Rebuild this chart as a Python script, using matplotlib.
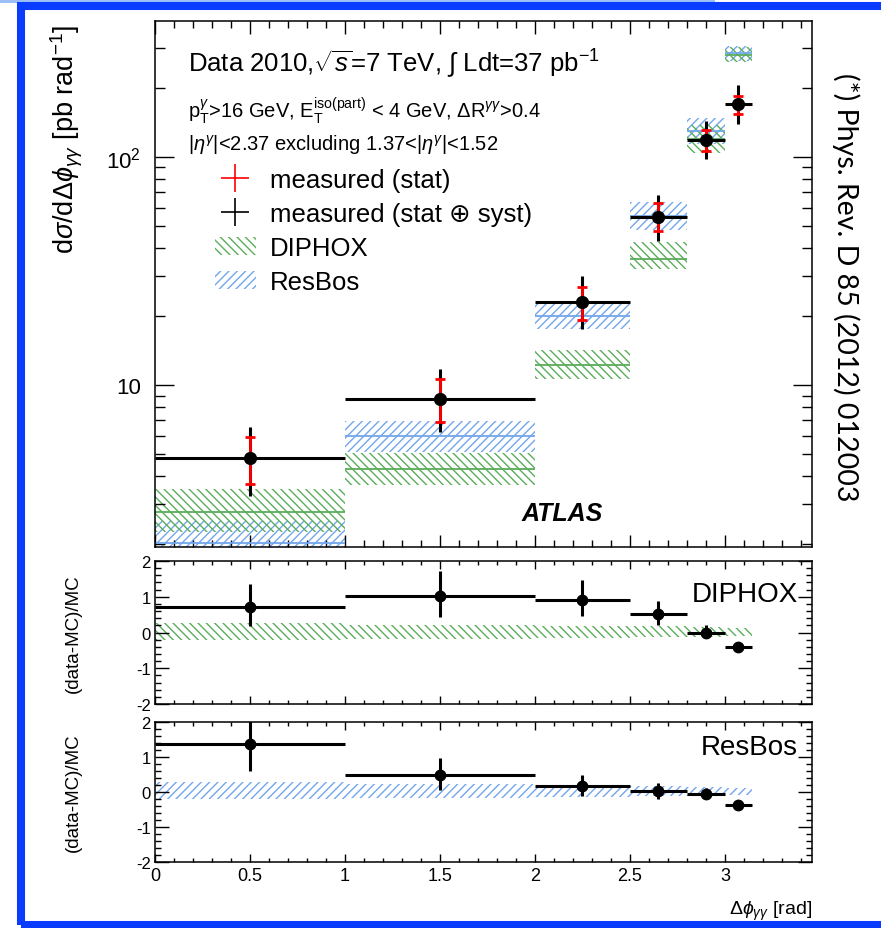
import numpy as np
import matplotlib
matplotlib.use("Agg")
import matplotlib.pyplot as plt
from matplotlib.lines import Line2D
from matplotlib.patches import Patch, Rectangle
from matplotlib.ticker import FixedLocator, MultipleLocator, FuncFormatter

plt.rcParams['font.family'] = ['Liberation Sans', 'DejaVu Sans']
plt.rcParams['mathtext.fontset'] = 'custom'
plt.rcParams['mathtext.rm'] = 'Liberation Sans'
plt.rcParams['mathtext.it'] = 'Liberation Sans:italic'
plt.rcParams['mathtext.bf'] = 'Liberation Sans:bold'
plt.rcParams['axes.unicode_minus'] = False
plt.rcParams['hatch.linewidth'] = 1.0

# bins in delta phi
bin_lo = [0.0, 1.0, 2.0, 2.5, 2.8, 3.0]
bin_hi = [1.0, 2.0, 2.5, 2.8, 3.0, 3.1416]
x_pts = [0.5, 1.5, 2.25, 2.65, 2.9, 3.07]

# measured cross section [pb/rad]
xsec = [4.79, 8.68, 23.1, 54.7, 118.8, 170.7]
stat_lo = [1.11, 1.82, 3.8, 7.5, 12.9, 15.8]
stat_hi = [1.13, 1.92, 3.7, 8.0, 13.0, 13.8]
tot_lo = [1.53, 2.48, 5.4, 11.8, 20.8, 31.1]
tot_hi = [1.75, 3.07, 6.9, 13.4, 25.4, 36.8]

# predictions
diphox = [2.78, 4.28, 12.2, 35.9, 120, 280]
diphox_lo = [2.26, 3.64, 10.6, 32.3, 104, 260]
diphox_hi = [3.50, 5.03, 14.3, 42.4, 138, 303]
resbos = [2.03, 5.96, 20.1, 55.1, 130, 285]
resbos_lo = [1.70, 5.10, 17.7, 47.9, 114, 265]
resbos_hi = [2.54, 6.97, 23.2, 63.7, 148, 308]

# (data-MC)/MC
r_dip = [0.70, 1.02, 0.90, 0.51, 0.00, -0.40]
r_dip_lo = [0.53, 0.58, 0.43, 0.31, 0.14, 0.07]
r_dip_hi = [0.67, 0.70, 0.56, 0.37, 0.20, 0.07]
band_dip_up = [0.26, 0.22, 0.19, 0.17, 0.15, 0.12]
band_dip_dn = [0.20, 0.17, 0.15, 0.13, 0.12, 0.10]

r_res = [1.36, 0.48, 0.17, 0.02, -0.05, -0.36]
r_res_lo = [0.76, 0.43, 0.28, 0.23, 0.16, 0.09]
r_res_hi = [0.75, 0.49, 0.33, 0.25, 0.16, 0.07]
band_res_up = [0.29, 0.24, 0.20, 0.17, 0.15, 0.12]
band_res_dn = [0.19, 0.16, 0.14, 0.12, 0.10, 0.08]

green = '#5aad5a'
blue = '#72a6ec'
h_dip = '\\\\\\\\'
h_res = '////'

W, H = 881, 929
fig = plt.figure(figsize=(W / 100, H / 100), dpi=100)

def ax_rect(l, t, r, b):
    return [l / W, 1 - b / H, (r - l) / W, (b - t) / H]

ax = fig.add_axes(ax_rect(155, 22, 812, 548))
ax1 = fig.add_axes(ax_rect(155, 562, 812, 705))
ax2 = fig.add_axes(ax_rect(155, 723, 812, 863))

edges = bin_lo + [bin_hi[-1]]
halfw = [(h - l) / 2 for l, h in zip(bin_lo, bin_hi)]

def step(v):
    return list(v) + [v[-1]]

# ---- main panel
ax.fill_between(edges, step(resbos_lo), step(resbos_hi), step='post',
                facecolor='none', edgecolor=blue, hatch=h_res, linewidth=0)
ax.fill_between(edges, step(diphox_lo), step(diphox_hi), step='post',
                facecolor='none', edgecolor=green, hatch=h_dip, linewidth=0)
ax.hlines(resbos, bin_lo, bin_hi, color=blue, lw=1.3)
ax.hlines(diphox, bin_lo, bin_hi, color=green, lw=1.3)

ax.errorbar(x_pts, xsec, xerr=halfw, yerr=[tot_lo, tot_hi], fmt='none',
            ecolor='black', elinewidth=2.2, capsize=0, zorder=3)
ax.errorbar(x_pts, xsec, yerr=[stat_lo, stat_hi], fmt='none', ecolor='red',
            elinewidth=2.0, capsize=3.3, capthick=2.0, zorder=4)
ax.plot(x_pts, xsec, 'o', color='black', ms=8.5, zorder=5)

ax.set_yscale('log')
ax.set_xlim(0, 3.458)
ax.set_ylim(1.95, 395)
ax.yaxis.set_major_locator(FixedLocator([10, 100]))
ax.yaxis.set_major_formatter(FuncFormatter(lambda v, p: '10' if v < 50 else r'10$^2$'))
ax.yaxis.set_minor_locator(FixedLocator([2, 3, 4, 5, 6, 7, 8, 9, 20, 30, 40, 50, 60, 70, 80, 90, 200, 300]))
ax.yaxis.set_minor_formatter(FuncFormatter(lambda v, p: ''))
ax.xaxis.set_major_locator(MultipleLocator(0.5))
ax.xaxis.set_minor_locator(MultipleLocator(0.1))
ax.tick_params(which='both', direction='in', top=True, right=True, width=1.0)
ax.tick_params(axis='y', which='major', length=14, labelsize=16, pad=10)
ax.tick_params(axis='y', which='minor', length=7)
ax.tick_params(axis='x', which='major', length=9, labelbottom=False)
ax.tick_params(axis='x', which='minor', length=5)
ax.set_ylabel(r'd$\sigma$/d$\Delta\phi_{\gamma\gamma}$ [pb rad$^{-1}$]', fontsize=19.5, loc='top')
ax.yaxis.set_label_coords(-0.107, 0.995)

ax.text(0.05, 0.9055, r'Data 2010,$\sqrt{s}$=7 TeV, $\int$ Ldt=37 pb$^{-1}$',
        transform=ax.transAxes, fontsize=18.5, va='baseline')
ax.text(0.05, 0.818, r'p$_{\rm T}^{\gamma}$>16 GeV, E$_{\rm T}^{\rm iso(part)}$ < 4 GeV, $\Delta$R$^{\gamma\gamma}$>0.4',
        transform=ax.transAxes, fontsize=14.5, va='baseline')
ax.text(0.05, 0.755, r'|$\eta^{\gamma}$|<2.37 excluding 1.37<|$\eta^{\gamma}$|<1.52',
        transform=ax.transAxes, fontsize=14.5, va='baseline')
ax.text(0.558, 0.052, 'ATLAS', transform=ax.transAxes, fontsize=18,
        fontweight='bold', fontstyle='italic', va='baseline')

handles = [Line2D([], [], color='red', marker='+', ms=20, mew=1.2, ls='none'),
           Line2D([], [], color='black', marker='+', ms=20, mew=1.2, ls='none'),
           Patch(facecolor='none', edgecolor=green, hatch=h_dip, linewidth=0),
           Patch(facecolor='none', edgecolor=blue, hatch=h_res, linewidth=0)]
labels = ['measured (stat)', 'measured (stat \u2295 syst)', 'DIPHOX', 'ResBos']
ax.legend(handles, labels, loc='upper left', bbox_to_anchor=(0.091, 0.72),
          frameon=False, fontsize=18.5, handlelength=1.6, handletextpad=0.55,
          labelspacing=0.39, borderpad=0, borderaxespad=0)

# ---- ratio panels
def ratio_panel(a, vals, lo, hi, up, dn, color, hatch, name, ny):
    a.fill_between(edges, step([-d for d in dn]), step(up), step='post',
                   facecolor='none', edgecolor=color, hatch=hatch, linewidth=0)
    a.errorbar(x_pts, vals, xerr=halfw, yerr=[lo, hi], fmt='o', color='black',
               ms=7.5, elinewidth=2.2, capsize=0)
    a.set_xlim(0, 3.458)
    a.set_ylim(-2, 2)
    a.yaxis.set_major_locator(MultipleLocator(1))
    a.yaxis.set_minor_locator(MultipleLocator(0.2))
    a.xaxis.set_major_locator(MultipleLocator(0.5))
    a.xaxis.set_minor_locator(MultipleLocator(0.1))
    a.yaxis.set_major_formatter(FuncFormatter(lambda v, p: '%d' % v))
    a.xaxis.set_major_formatter(FuncFormatter(lambda v, p: '%g' % v))
    a.tick_params(which='both', direction='in', top=True, right=True, width=1.0)
    a.tick_params(axis='y', which='major', length=10, labelsize=12, pad=3)
    a.tick_params(axis='y', which='minor', length=4.5)
    a.tick_params(axis='x', which='major', length=6, labelsize=13)
    a.tick_params(axis='x', which='minor', length=3)
    a.set_ylabel('(data-MC)/MC', fontsize=13.5)
    a.yaxis.set_label_coords(-0.112, 0.5)
    a.text(0.978, ny, name, transform=a.transAxes, fontsize=20, ha='right', va='baseline')

ratio_panel(ax1, r_dip, r_dip_lo, r_dip_hi, band_dip_up, band_dip_dn, green, h_dip, 'DIPHOX', 0.722)
ratio_panel(ax2, r_res, r_res_lo, r_res_hi, band_res_up, band_res_dn, blue, h_res, 'ResBos', 0.771)
ax1.tick_params(axis='x', labelbottom=False)
ax2.set_xlabel(r'$\Delta\phi_{\gamma\gamma}$ [rad]', fontsize=14, loc='right', labelpad=11)

for a in (ax, ax1, ax2):
    for s in a.spines.values():
        s.set_linewidth(1.1)

# reference on the right
fig.text(846 / W, 1 - 287 / H, '(*) Phys. Rev. D 85 (2012) 012003', rotation=-90,
         fontsize=20.5, family='Lato', ha='center', va='center')

# slide frame
fig.patches.append(Rectangle((0, 1 - 4 / H), 715 / W, 4 / H, transform=fig.transFigure,
                             facecolor='#9cc0f5', edgecolor='none'))
fig.patches.append(Rectangle((21 / W, 1 - 925.5 / H), 1.05, (925.5 - 6.5) / H,
                             transform=fig.transFigure, facecolor='none',
                             edgecolor='#0a3cff', linewidth=5.8))

fig.savefig('out.png', dpi=100)
